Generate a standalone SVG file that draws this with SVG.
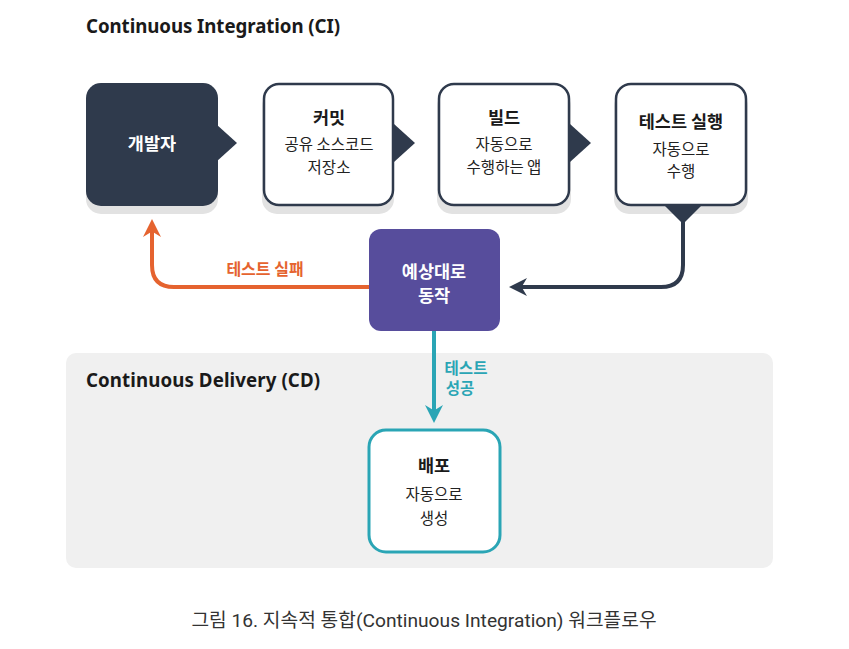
<svg xmlns="http://www.w3.org/2000/svg" width="849" height="649" viewBox="0 0 849 649">
<defs>
<style>
text{font-family:"Noto Sans","Noto Sans CJK KR",sans-serif;}
.kr{font-family:"Noto Sans CJK KR","Noto Sans",sans-serif;}
.title{font-size:18.7px;font-weight:700;fill:#1a1a1a;}
.h{font-size:17.5px;font-weight:700;fill:#1a1a1a;text-anchor:middle;}
.s{font-size:15.5px;fill:#222;text-anchor:middle;}
.w{font-size:17.5px;font-weight:700;fill:#fff;text-anchor:middle;}
.shadow{fill:#e2e2e2;}
.box{fill:#fff;stroke:#2f3a4c;stroke-width:2.5;}
.dark{fill:#2f3a4c;}
</style>
<marker id="ao" viewBox="0 0 10 10" refX="5" refY="5" markerWidth="4.5" markerHeight="4.5" orient="auto-start-reverse" markerUnits="strokeWidth"><path d="M0,0 L10,5 L0,10 L3,5 Z" fill="#e5632f"/></marker>
<marker id="ad" viewBox="0 0 10 10" refX="5" refY="5" markerWidth="4.5" markerHeight="4.5" orient="auto" markerUnits="strokeWidth"><path d="M0,0 L10,5 L0,10 L3,5 Z" fill="#2f3a4c"/></marker>
<marker id="at" viewBox="0 0 10 10" refX="5" refY="5" markerWidth="4.5" markerHeight="4.5" orient="auto" markerUnits="strokeWidth"><path d="M0,0 L10,5 L0,10 L3,5 Z" fill="#2aa5b5"/></marker>
</defs>
<rect width="849" height="649" fill="#fff"/>
<text class="title" x="86" y="33" textLength="254">Continuous Integration (CI)</text>
<g id="cd-region">
<rect x="66" y="353" width="707" height="215" rx="10" fill="#f0f0f0"/>
<text class="title" x="86" y="387" textLength="234">Continuous Delivery (CD)</text>
</g>
<g id="connectors" fill="none" stroke-width="4">
<path d="M369,287 H174 Q152,287 152,265 V228" stroke="#e5632f" marker-end="url(#ao)"/>
<path d="M683,220 V265 Q683,287 661,287 H518" stroke="#2f3a4c" marker-end="url(#ad)"/>
<path d="M434,331 V414" stroke="#2aa5b5" marker-end="url(#at)"/>
<text class="kr" x="265" y="275" text-anchor="middle" stroke="none" style="font-size:16px;font-weight:700;fill:#e5632f">테스트 실패</text>
<text class="kr" x="466" y="374" text-anchor="middle" stroke="none" style="font-size:15.5px;font-weight:700;fill:#2aa5b5">테스트</text>
<text class="kr" x="460" y="394" text-anchor="middle" stroke="none" style="font-size:15.5px;font-weight:700;fill:#2aa5b5">성공</text>
</g>
<g id="node-dev">
<rect class="shadow" x="86" y="91" width="132" height="123" rx="15"/>
<rect class="dark" x="86" y="83" width="132" height="123" rx="15"/>
<path class="dark" d="M216,124 L237,143 L216,162 Z"/>
<text class="w kr" x="152" y="150">개발자</text>
</g>
<g id="node-commit">
<rect class="shadow" x="262" y="91" width="132" height="123" rx="15"/>
<rect class="box" x="264" y="84" width="129" height="121" rx="15"/>
<path class="dark" d="M394,124 L415,143 L394,162 Z"/>
<text class="h kr" x="329" y="124">커밋</text>
<text class="s kr" x="329" y="150">공유 소스코드</text>
<text class="s kr" x="329" y="173">저장소</text>
</g>
<g id="node-build">
<rect class="shadow" x="437" y="91" width="134" height="123" rx="15"/>
<rect class="box" x="439" y="84" width="130" height="121" rx="15"/>
<path class="dark" d="M570,124 L591,143 L570,162 Z"/>
<text class="h kr" x="504" y="124">빌드</text>
<text class="s kr" x="504" y="150">자동으로</text>
<text class="s kr" x="504" y="173">수행하는 앱</text>
</g>
<g id="node-test">
<rect class="shadow" x="614" y="91" width="134" height="123" rx="15"/>
<rect class="box" x="616" y="84" width="130" height="121" rx="15"/>
<path class="dark" d="M664,205 L702,205 L683,224 Z"/>
<text class="h kr" x="681" y="128">테스트 실행</text>
<text class="s kr" x="681" y="155">자동으로</text>
<text class="s kr" x="681" y="177">수행</text>
</g>
<g id="node-expected">
<rect x="369" y="229" width="131" height="102" rx="12" fill="#574d9c"/>
<text class="w kr" x="434" y="278">예상대로</text>
<text class="w kr" x="434" y="302">동작</text>
</g>
<g id="node-deploy">
<rect x="369" y="430" width="131" height="122" rx="17" fill="#fff" stroke="#2aa5b5" stroke-width="3"/>
<text class="h kr" x="434" y="472">배포</text>
<text class="s kr" x="434" y="500">자동으로</text>
<text class="s kr" x="434" y="524">생성</text>
</g>
<text x="424" y="627" text-anchor="middle" style="font-family:Roboto,'Noto Sans CJK KR',sans-serif;font-size:19.2px;font-weight:400;fill:#333">그림 16. 지속적 통합(Continuous Integration) 워크플로우</text>
</svg>
